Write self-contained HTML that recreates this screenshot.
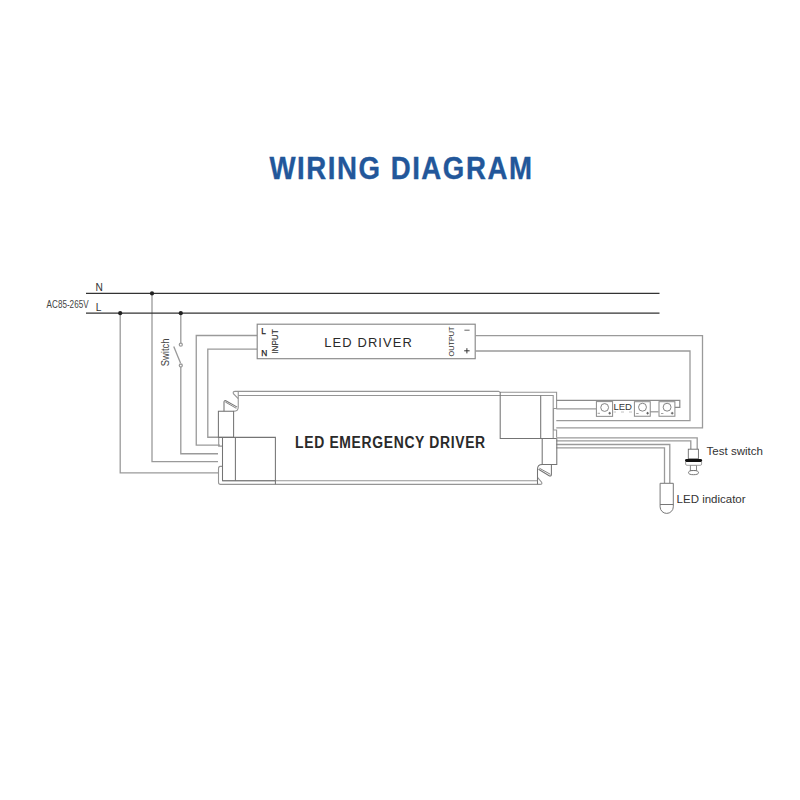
<!DOCTYPE html>
<html><head><meta charset="utf-8">
<style>
html,body{margin:0;padding:0;background:#fff;width:800px;height:800px;overflow:hidden}
svg{display:block}
text{font-family:"Liberation Sans",sans-serif}
</style></head>
<body>
<svg width="800" height="800" viewBox="0 0 800 800">
<rect width="800" height="800" fill="#fff"/>
<!-- Title -->
<text transform="translate(269.4,179.3) scale(0.88,1)" font-size="31.4" font-weight="700" fill="#22579a" stroke="#22579a" stroke-width="0.35" textLength="298.3" lengthAdjust="spacing">WIRING DIAGRAM</text>

<!-- Mains labels -->
<text x="95.6" y="291.3" font-size="10.2" fill="#333">N</text>
<text x="95.8" y="310.9" font-size="10.2" fill="#333">L</text>
<text x="46.6" y="307.6" font-size="10.5" fill="#444" textLength="42" lengthAdjust="spacingAndGlyphs">AC85-265V</text>

<!-- grey wires -->
<g fill="none" stroke="#9a9a9a" stroke-width="1.3">
  <polyline points="120.2,313.2 120.2,472.8 218,472.8"/>
  <polyline points="152,293.4 152,461.7 218,461.7"/>
  <polyline points="180.8,313.2 180.8,343.2"/>
  <polyline points="180.8,367 180.8,453.75 218,453.75"/>
  <line x1="173.75" y1="346.5" x2="180.5" y2="363"/>
  <polyline points="257,335.5 196.25,335.5 196.25,445.2 220,445.2"/>
  <polyline points="257,349.2 207.8,349.2 207.8,437.25 218.4,437.25"/>
  <circle cx="180.8" cy="344.7" r="1.5"/>
  <circle cx="180.8" cy="365.5" r="1.5"/>
  <!-- LED driver box -->
  <rect x="257.2" y="324.2" width="218" height="34.5" stroke="#888" stroke-width="1.15"/>
  <!-- outputs -->
  <polyline points="475.25,335.6 702.5,335.6 702.5,427.8 556.3,427.8"/>
  <polyline points="475.25,351 690,351 690,420.7 556.3,420.7"/>
  <!-- right side wires -->
    <polyline points="556.3,408.8 596.3,408.8"/>
  <polyline points="650,411.8 658.5,411.8"/>
  <polyline points="556.3,437.8 697.2,437.8 697.2,449.5"/>
  <polyline points="556.3,440.8 690.8,440.8 690.8,449.5"/>
  <polyline points="556.3,444.5 669.8,444.5 669.8,483.2"/>
  <polyline points="556.3,447.8 664.5,447.8 664.5,483.2"/>
</g>

<!-- N/L lines -->
<g stroke="#333" stroke-width="1.3">
  <line x1="86" y1="293.4" x2="659.5" y2="293.4"/>
  <line x1="86" y1="313.2" x2="659.5" y2="313.2"/>
</g>
<g fill="#222">
  <circle cx="152" cy="293.4" r="2.1"/>
  <circle cx="120.2" cy="313.2" r="2.1"/>
  <circle cx="180.8" cy="313.2" r="2.1"/>
</g>

<!-- Switch label -->
<text transform="translate(169,366.3) rotate(-90)" font-size="10" fill="#444" textLength="27.8" lengthAdjust="spacingAndGlyphs">Switch</text>

<!-- LED driver texts -->
<text x="261.2" y="334" font-size="8.4" fill="#222" stroke="#222" stroke-width="0.25">L</text>
<text x="261.3" y="356.1" font-size="8.4" fill="#222" stroke="#222" stroke-width="0.25">N</text>
<text transform="translate(277.9,353.8) rotate(-90)" font-size="8.2" fill="#333" stroke="#333" stroke-width="0.15" textLength="24.6" lengthAdjust="spacingAndGlyphs">INPUT</text>
<text transform="translate(324.3,346.6) scale(1.06,1)" font-size="12.2" fill="#2a2a2a" textLength="82.6" lengthAdjust="spacing">LED DRIVER</text>
<text transform="translate(454.2,356.4) rotate(-90)" font-size="7.4" fill="#2e2e2e" textLength="29.9" lengthAdjust="spacingAndGlyphs">OUTPUT</text>
<line x1="464.4" y1="330.2" x2="469.6" y2="330.2" stroke="#555" stroke-width="0.9"/>
<path d="M464.2,350.8 H469.6 M466.9,348.2 V353.4" stroke="#333" stroke-width="1"/>

<!-- Emergency driver body -->
<g fill="none" stroke="#959595" stroke-width="1.1">
  <path d="M556.6,437.5 V430 H553.5 V408.5 H556.6 V392.2 H500.2 L498.5,391.35 H235.2 Q232.6,391.35 233.4,393.6 L238.25,398.6"/>
  <path d="M233.6,411.25 Q238.25,411.25 238.25,407.2 V391.45"/>
  <path d="M238.25,395.5 H553.2 V438.5"/>
  <path d="M222.5,480.7 H537.5"/>
  <path d="M222.5,466.4 H220.2 Q218.5,466.4 218.5,468.5 V482.2 Q218.5,484.35 220.6,484.35 H540 Q542.6,484.35 541.6,482.2 L537.5,477.3"/>
  <path d="M218.7,437.35 V446.1 H222.5"/>
</g>
<g fill="none" stroke="#747474" stroke-width="1.05">
  <!-- left small box -->
  <rect x="218.4" y="411.25" width="15.2" height="26.1"/>
  <!-- left clip -->
  <path d="M224,411.25 V402.2 Q224,400.3 225.9,400.7 L237.2,407.1"/>
  <path d="M225.3,402 L236.3,408.3" stroke-width="0.9"/>
  <!-- left terminal -->
  <path d="M218.4,437.35 H275.4 V484.35"/>
  <path d="M235.4,437.35 V480.7"/>
  <path d="M222.5,437.35 V480.7 H275.4"/>
  <!-- right terminal -->
  <path d="M500.2,392 V438.5 H556.6"/>
  <path d="M540.7,395.5 V438.5"/>
  <!-- right small box -->
  <path d="M542.2,438.5 V464.5 H556.8 V438.5"/>
  <path d="M542.2,464.5 Q537.5,464.5 537.5,469.2 V484.35"/>
  <!-- right clip -->
  <path d="M551.4,464.5 V474.4 Q551.4,476.4 549.5,475.9 L538.5,469.3"/>
  <path d="M550.4,474.3 L539.4,468.2" stroke-width="0.9"/>
</g>
<text transform="translate(295.1,447.7) scale(0.8,1)" font-size="17.4" font-weight="700" fill="#2a2a2a" textLength="237.6" lengthAdjust="spacing">LED EMERGENCY DRIVER</text>

<!-- LED strip -->
<g fill="#fff" stroke="#8a8a8a" stroke-width="1">
  <rect x="596.4" y="401.6" width="16.2" height="14.75"/>
  <rect x="634.4" y="401.7" width="15.85" height="14.55"/>
  <rect x="659" y="401.7" width="15.9" height="14.55"/>
</g>
<g fill="none" stroke="#777" stroke-width="0.9">
  <circle cx="604.65" cy="407.5" r="3.9"/>
  <circle cx="642.5" cy="407.2" r="3.95"/>
  <circle cx="667.1" cy="407.2" r="3.95"/>
</g>
<path d="M556.3,400.3 H679.8 V407.3 H674.9" fill="none" stroke="#8a8a8a" stroke-width="1.2"/>
<path d="M597.6,413.3 H600 M636.2,413.5 H638.6 M661,413.5 H663.4" stroke="#999" stroke-width="0.9"/>
<path d="M608.4,413.2 H611 M609.7,411.9 V414.5 M646.3,413.2 H648.9 M647.6,411.9 V414.5 M670.9,413.2 H673.5 M672.2,411.9 V414.5" stroke="#555" stroke-width="0.9"/>
<path d="M613.5,412 H616 M621,412 H624 M629,412 H632" stroke="#bbb" stroke-width="0.9"/>
<text x="613.4" y="409.5" font-size="9.3" fill="#333" textLength="18.6" lengthAdjust="spacingAndGlyphs">LED</text>

<!-- Test switch -->
<g>
  <rect x="688.3" y="449.2" width="10.1" height="9.6" fill="#fff" stroke="#6a6a6a" stroke-width="0.9"/>
  <rect x="690.3" y="465" width="6.3" height="5.4" fill="#fff" stroke="#6a6a6a" stroke-width="0.8"/>
  <path d="M685.6,461.6 V464 Q685.6,465.3 687,465.3 H700.3 Q701.6,465.3 701.6,464 V461.6" fill="#fff" stroke="#8a8a8a" stroke-width="0.8"/>
  <rect x="685" y="459" width="17.1" height="2.9" rx="1.45" fill="#111"/>
  <ellipse cx="693.5" cy="472.6" rx="5" ry="2.1" fill="#fff" stroke="#6a6a6a" stroke-width="0.9"/>
</g>
<text x="706.6" y="454.8" font-size="10.7" fill="#333" textLength="56.4" lengthAdjust="spacingAndGlyphs">Test switch</text>

<!-- LED indicator -->
<path d="M660.1,483.3 H673.3 V506.8 A6.6,6.6 0 0 1 660.1,506.8 Z M660.1,504.5 H673.3" fill="#fff" stroke="#707070" stroke-width="0.95"/>
<text x="676.6" y="502.5" font-size="10.6" fill="#333" textLength="69" lengthAdjust="spacingAndGlyphs">LED indicator</text>
</svg>
</body></html>
